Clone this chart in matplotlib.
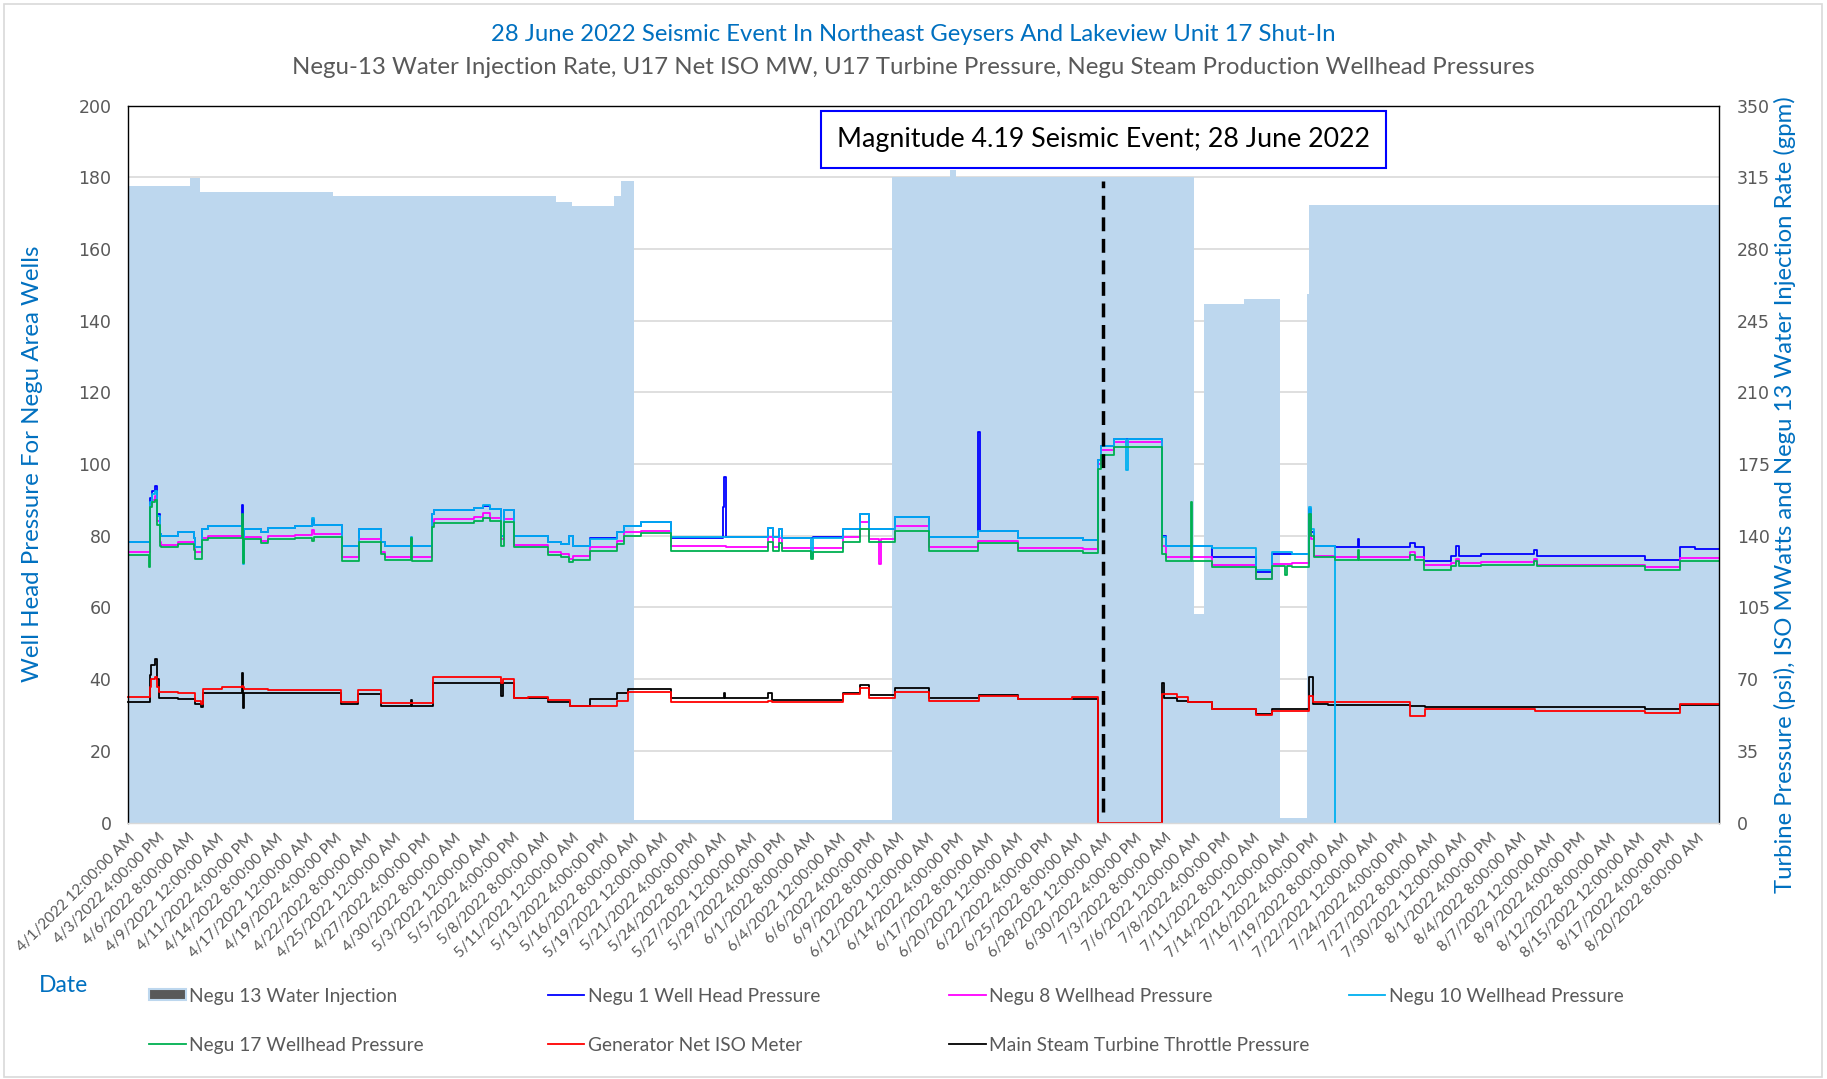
import datetime as dt
import numpy as np
import matplotlib
matplotlib.use('Agg')
import matplotlib.pyplot as plt
from matplotlib.lines import Line2D
from matplotlib.patches import Patch, Rectangle

# time axis: days since 4/1/2022 12:00 AM, ticks every 64 hours
start = dt.datetime(2022, 4, 1)
end_day = 143.3
tick_hours = 64
n_ticks = 54
event_day = 87.85

# Negu 13 water injection (gpm, right axis)
inj_days = [0.0, 5.6, 6.5, 18.5, 38.5, 40.0, 43.8, 44.4, 45.6, 68.8, 74.0, 74.6,
            96.0, 96.9, 100.5, 103.8, 106.2, 106.4, 143.3]
inj_gpm = [310.5, 314.5, 308.0, 306.0, 303.0, 301.0, 306.0, 313.0, 1.0, 315.0, 318.5, 315.0,
           102.0, 253.0, 255.5, 2.0, 258.0, 301.5, 301.0]

# wellhead pressures (psi, left axis), shared step grid
wh_days = [0.00, 1.85, 1.95, 2.20, 2.45, 2.65, 2.85, 3.00, 4.50, 5.90,
           6.05, 6.70, 7.20, 10.25, 10.35, 10.45, 12.00, 12.60, 15.00, 16.55,
           16.75, 19.30, 20.80, 22.80, 23.10, 25.45, 25.60, 27.40, 27.60, 31.20,
           32.00, 32.60, 33.60, 33.85, 34.80, 37.80, 39.00, 39.75, 40.10, 41.60,
           44.00, 44.70, 46.20, 48.90, 53.60, 53.70, 53.85, 57.60, 58.10, 58.60,
           58.90, 61.50, 61.65, 64.40, 65.90, 66.70, 67.65, 67.80, 69.10, 72.10,
           76.55, 76.70, 80.20, 86.00, 87.40, 87.60, 88.80, 89.90, 90.05, 93.10,
           93.50, 95.70, 95.85, 97.60, 101.60, 103.00, 104.20, 104.35, 104.80, 106.40,
           106.55, 106.80, 108.70, 108.75, 110.75, 110.90, 115.50, 115.90, 116.70, 119.20,
           119.60, 119.90, 121.90, 126.65, 126.90, 136.60, 139.80, 141.10, 143.30]
negu1 = [78.2, 78.2, 90.5, 92.5, 93.8, 86.0, 80.5, 79.8, 81.0, 79.5,
         76.8, 81.9, 82.8, 88.6, 80.0, 81.9, 81.1, 82.2, 82.6, 84.5,
         83.0, 77.0, 81.9, 78.2, 77.2, 79.5, 77.2, 86.0, 87.2, 87.6,
         88.2, 87.5, 80.0, 87.2, 79.8, 78.2, 77.8, 80.0, 77.2, 79.3,
         81.0, 82.8, 83.7, 79.4, 88.0, 96.3, 79.6, 82.2, 79.6, 82.0,
         79.4, 79.4, 79.6, 81.9, 86.1, 81.9, 81.9, 81.9, 85.1, 79.6,
         108.9, 81.4, 79.4, 78.9, 101.0, 105.0, 107.0, 107.0, 107.0, 80.0,
         77.2, 77.2, 77.2, 74.2, 70.0, 75.0, 75.0, 75.0, 75.0, 87.5,
         81.0, 77.0, 76.8, 76.8, 79.0, 76.8, 78.0, 76.8, 73.0, 74.4,
         77.0, 74.4, 74.9, 76.0, 74.4, 73.2, 76.8, 76.3, 76.3]
negu8 = [75.4, 75.4, 88.5, 90.0, 91.0, 84.0, 78.2, 77.4, 78.2, 77.0,
         75.4, 79.5, 79.8, 80.0, 78.0, 79.6, 78.6, 79.8, 80.1, 81.5,
         80.5, 74.2, 79.1, 75.4, 74.2, 74.2, 74.2, 83.5, 84.7, 85.2,
         86.2, 85.0, 79.0, 84.7, 77.5, 75.4, 75.0, 73.5, 74.4, 76.8,
         78.6, 81.0, 81.4, 77.0, 77.0, 77.0, 76.8, 79.6, 76.8, 79.4,
         76.5, 76.5, 76.5, 79.6, 83.7, 79.1, 72.1, 79.1, 82.8, 76.8,
         78.5, 78.6, 76.6, 76.2, 100.0, 104.0, 106.1, 106.1, 106.1, 77.0,
         74.0, 74.0, 74.0, 71.9, 67.9, 72.1, 72.1, 72.1, 72.3, 85.0,
         79.0, 74.3, 74.2, 74.2, 74.2, 74.2, 75.5, 74.2, 71.7, 72.3,
         73.5, 72.3, 72.6, 73.5, 71.9, 71.2, 73.8, 73.8, 73.8]
negu10 = [78.2, 78.2, 89.5, 91.5, 92.5, 85.5, 80.5, 79.8, 81.0, 79.5,
          76.8, 81.9, 82.6, 82.6, 72.0, 81.9, 81.1, 82.2, 82.6, 85.0,
          83.0, 77.0, 81.9, 78.2, 77.2, 79.7, 77.2, 86.0, 87.2, 87.8,
          88.6, 87.5, 80.0, 87.2, 79.8, 78.2, 77.8, 80.0, 77.2, 79.1,
          81.0, 82.8, 83.7, 79.6, 79.6, 79.6, 79.6, 82.2, 79.6, 82.0,
          79.4, 74.0, 79.3, 81.9, 86.1, 81.9, 81.9, 81.9, 85.1, 79.6,
          81.4, 81.4, 79.4, 78.9, 101.0, 105.0, 107.0, 98.2, 107.0, 79.6,
          77.2, 77.2, 77.2, 76.5, 70.4, 75.4, 75.4, 75.4, 75.0, 87.9,
          82.0, 77.0, 0.0, np.nan, np.nan, np.nan, np.nan, np.nan, np.nan, np.nan,
          np.nan, np.nan, np.nan, np.nan, np.nan, np.nan, np.nan, np.nan, np.nan]
negu17 = [74.6, 71.4, 88.0, 89.5, 90.0, 83.0, 77.2, 76.8, 77.7, 76.0,
          73.5, 78.8, 79.3, 86.0, 72.5, 79.1, 78.0, 79.1, 79.4, 78.5,
          79.7, 73.0, 78.2, 74.9, 73.3, 79.5, 73.0, 82.5, 83.5, 84.0,
          85.0, 84.0, 77.0, 83.8, 76.8, 74.7, 74.2, 72.6, 73.3, 75.8,
          77.7, 80.0, 80.7, 75.8, 75.8, 75.8, 75.8, 78.2, 75.8, 78.0,
          75.6, 73.5, 75.4, 78.2, 81.9, 78.2, 78.2, 78.2, 81.4, 75.8,
          78.0, 78.0, 75.6, 75.2, 98.5, 102.5, 104.7, 104.7, 104.7, 75.0,
          73.0, 89.3, 73.0, 71.2, 67.9, 71.6, 69.0, 71.6, 71.2, 86.0,
          80.0, 74.0, 73.3, 73.3, 76.0, 73.3, 74.5, 73.3, 70.4, 71.6,
          73.0, 71.6, 71.9, 73.0, 71.5, 70.5, 73.0, 73.0, 73.0]

# U17 generator MW and throttle pressure (right axis)
u17_days = [0.00, 1.95, 2.10, 2.40, 2.65, 2.80, 4.50, 6.00, 6.60, 6.75,
            8.50, 10.25, 10.35, 10.45, 12.60, 19.20, 20.70, 22.80, 25.45, 25.60,
            27.50, 33.60, 33.80, 34.80, 36.00, 37.80, 39.80, 41.60, 44.00, 45.00,
            48.90, 53.65, 53.80, 57.60, 58.00, 64.40, 65.90, 66.70, 69.10, 72.10,
            76.60, 80.20, 85.00, 87.40, 93.10, 93.30, 94.50, 95.50, 97.60, 101.60,
            103.00, 106.40, 106.75, 108.10, 115.50, 116.80, 126.70, 136.60, 139.80, 143.30]
throttle_psi = [58.9, 72.0, 77.0, 79.7, 70.0, 61.0, 60.2, 57.8, 56.5, 63.1,
                63.1, 73.2, 56.0, 63.4, 63.4, 57.8, 62.6, 57.0, 60.0, 57.0,
                68.3, 62.0, 68.3, 61.0, 60.7, 58.6, 57.0, 60.2, 63.0, 65.1,
                60.7, 63.0, 60.7, 63.0, 59.7, 63.0, 67.2, 62.3, 65.6, 60.7,
                62.3, 60.2, 60.2, 0.0, 67.9, 60.7, 59.5, 58.6, 55.6, 52.9,
                55.3, 70.8, 57.8, 57.4, 57.0, 56.5, 56.5, 55.5, 57.4, 57.4]
gen_mw = [61.5, 66.0, 70.0, 70.8, 66.0, 63.5, 63.0, 59.4, 58.0, 65.0,
          66.2, 66.5, 66.0, 65.4, 64.6, 58.6, 64.6, 58.2, 58.2, 58.2,
          70.8, 68.0, 70.0, 60.7, 61.3, 59.7, 57.0, 57.0, 59.5, 63.5,
          58.6, 58.6, 58.6, 59.5, 59.0, 62.6, 65.9, 61.0, 63.5, 59.4,
          61.8, 60.2, 61.3, 0.0, 62.6, 62.6, 61.5, 59.0, 55.3, 52.4,
          54.5, 62.0, 58.6, 58.6, 52.0, 55.3, 54.5, 53.5, 57.8, 57.8]

BLUE_T = '#0070C0'
GRAY_T = '#595959'
AREA = '#BDD7EE'
FONT = ['Lato', 'DejaVu Sans']


def excel_label(t):
    h = t.hour % 12 or 12
    ampm = 'AM' if t.hour < 12 else 'PM'
    return f'{t.month}/{t.day}/{t.year} {h}:{t.minute:02d}:{t.second:02d} {ampm}'


fig = plt.figure(figsize=(18.27, 10.79), dpi=100)
ax = fig.add_axes([0.0701, 0.2377, 0.8708, 0.6645])
ax2 = ax.twinx()
ax.set_zorder(ax2.get_zorder() + 1)
ax.patch.set_visible(False)

# right axis layer: grid, injection area, unit 17 lines
ax2.set_ylim(0, 350)
ax2.set_yticks(range(0, 351, 35))
ax2.set_axisbelow(True)
ax2.grid(axis='y', color='#D9D9D9', lw=1.2)
ax2.fill_between(inj_days, inj_gpm, step='post', color=AREA, lw=0, zorder=1)
ax2.plot(u17_days, throttle_psi, drawstyle='steps-post', color='#000000', lw=1.3, zorder=3, clip_on=False)
ax2.plot(u17_days, gen_mw, drawstyle='steps-post', color='#FF0000', lw=1.3, zorder=4, clip_on=False)
for s in ax2.spines.values():
    s.set_visible(False)

# left axis layer: wellhead pressures
ax.set_xlim(0, end_day)
ax.set_ylim(0, 200)
ax.set_yticks(range(0, 201, 20))
ax.plot(wh_days, negu1, drawstyle='steps-post', color='#0000FF', lw=1.3)
ax.plot(wh_days, negu8, drawstyle='steps-post', color='#FF00FF', lw=1.3)
ax.plot(wh_days, negu10, drawstyle='steps-post', color='#00B0F0', lw=1.3)
ax.plot(wh_days, negu17, drawstyle='steps-post', color='#00B050', lw=1.3)

# seismic event marker
ax.plot([event_day, event_day], [3, 179], color='black', lw=2.5, ls=(0, (4, 2.2)))
ax.text(event_day, 190.5, 'Magnitude 4.19 Seismic Event; 28 June 2022', ha='center', va='center',
        fontsize=19.3, family=FONT, color='black',
        bbox=dict(boxstyle='square,pad=0.6', fc='white', ec='#0000FF', lw=1.5))

for name, s in ax.spines.items():
    s.set_color('#D9D9D9' if name == 'bottom' else 'black')
    s.set_linewidth(1)

tick_days = [k * tick_hours / 24 for k in range(n_ticks)]
tick_labels = [excel_label(start + dt.timedelta(hours=k * tick_hours)) for k in range(n_ticks)]
ax.set_xticks(tick_days)
ax.set_xticklabels(tick_labels, rotation=45, ha='right', va='top', rotation_mode='anchor',
                   fontsize=11, family=FONT, color=GRAY_T)
ax.tick_params(axis='x', length=0, pad=6)
ax.tick_params(axis='y', length=0, pad=12, labelsize=12.5, labelcolor=GRAY_T)
ax2.tick_params(axis='y', length=0, pad=13, labelsize=12.5, labelcolor=GRAY_T)

# titles and axis titles
fig.text(0.5, 0.9676, '28 June 2022 Seismic Event In Northeast Geysers And Lakeview Unit 17 Shut-In',
         ha='center', va='center', fontsize=17.2, family=FONT, color=BLUE_T)
fig.text(0.5, 0.9374, 'Negu-13 Water Injection Rate, U17 Net ISO MW, U17 Turbine Pressure, '
         'Negu Steam Production Wellhead Pressures',
         ha='center', va='center', fontsize=17.3, family=FONT, color=GRAY_T)
fig.text(0.018, 0.570, 'Well Head Pressure For Negu Area Wells', rotation=90,
         ha='center', va='center', fontsize=17.3, family=FONT, color=BLUE_T)
fig.text(0.977, 0.542, 'Turbine Pressure (psi), ISO MWatts and Negu 13 Water Injection Rate (gpm)',
         rotation=90, ha='center', va='center', fontsize=17.2, family=FONT, color=BLUE_T)
fig.text(0.035, 0.0870, 'Date', ha='center', va='center', fontsize=16.5, family=FONT, color=BLUE_T)

# legend laid out on an even grid like the spreadsheet
legend_items = [
    (Patch(facecolor='#595959', edgecolor=AREA, lw=1.5), 'Negu 13 Water Injection', 0.0817, 0.0769),
    (Line2D([], [], color='#0000FF', lw=1.3), 'Negu 1 Well Head Pressure', 0.2998, 0.0769),
    (Line2D([], [], color='#FF00FF', lw=1.3), 'Negu 8 Wellhead Pressure', 0.5196, 0.0769),
    (Line2D([], [], color='#00B0F0', lw=1.3), 'Negu 10 Wellhead Pressure', 0.7384, 0.0769),
    (Line2D([], [], color='#00B050', lw=1.3), 'Negu 17 Wellhead Pressure', 0.0817, 0.0315),
    (Line2D([], [], color='#FF0000', lw=1.3), 'Generator Net ISO Meter', 0.2998, 0.0315),
    (Line2D([], [], color='#000000', lw=1.3), 'Main Steam Turbine Throttle Pressure', 0.5196, 0.0315),
]
for handle, label, lx, ly in legend_items:
    fig.legend(handles=[handle], labels=[label], loc='center left', bbox_to_anchor=(lx, ly),
               bbox_transform=fig.transFigure, frameon=False, borderpad=0, borderaxespad=0,
               handlelength=1.9, handleheight=0.5, handletextpad=0.2,
               prop={'family': FONT, 'size': 13.75}, labelcolor=GRAY_T)

# chart area border
fig.patches.append(Rectangle((0.002, 0.002), 0.995, 0.994, transform=fig.transFigure,
                             fill=False, ec='#D9D9D9', lw=1.2))

fig.savefig('out.png', dpi=100)
